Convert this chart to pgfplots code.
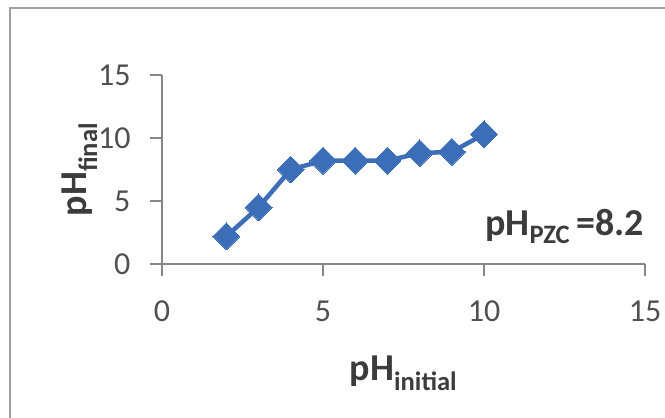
\documentclass[border=0pt]{standalone}
\usepackage{pgfplots}
\pgfplotsset{compat=1.18}
\usepackage{fontspec}
\setmainfont{Carlito}
\definecolor{serblue}{RGB}{60,110,184}
\definecolor{tickgray}{RGB}{80,80,80}
\definecolor{labgray}{RGB}{60,60,60}
\definecolor{axgray}{RGB}{134,134,134}
\definecolor{framegray}{RGB}{160,160,160}
\begin{document}
\begin{tikzpicture}
\useasboundingbox (0,0) rectangle (665pt,418pt);
\draw[framegray, line width=1.5pt] (10pt,0pt) -- (10pt,410pt) -- (665pt,410pt);
\begin{axis}[
  at={(162pt,154pt)}, anchor=south west,
  scale only axis, width=483pt, height=189pt,
  xmin=0, xmax=15, ymin=0, ymax=15,
  xtick={0,5,10,15}, ytick={0,5,10,15},
  axis lines=left,
  axis line style={axgray, line width=1.5pt, -},
  tick align=outside,
  major tick length=12pt,
  tick style={axgray, line width=1.5pt},
  every tick label/.append style={font=\fontsize{32}{33}\selectfont, text=tickgray},
  /pgf/number format/assume math mode=true,
  xticklabel style={anchor=north, yshift=-21pt},
  yticklabel style={anchor=east, xshift=-16pt},
  xlabel={\textbf{pH\textsubscript{initial}}},
  ylabel={\textbf{pH\textsubscript{final}}},
  label style={font=\fontsize{38}{40}\selectfont, text=labgray},
  xlabel style={at={(axis description cs:0.5,0)}, anchor=base, yshift=-116pt},
  ylabel style={at={([xshift=-75pt]axis description cs:0,0.5)}, anchor=base, rotate=0},
  clip=false,
]
\addplot[serblue, line width=4.5pt, mark=square*, mark size=9.5pt,
  mark options={serblue, line width=0pt, rotate=45}] coordinates {
  (2,2.2) (3,4.5) (4,7.5) (5,8.2) (6,8.2) (7,8.2) (8,8.8) (9,8.9) (10,10.3)
};
\node[anchor=base west, text=labgray, font=\fontsize{38}{40}\selectfont\bfseries, inner sep=0pt]
  at (axis cs:10.03,2.3) {pH\textsubscript{PZC}\,=8.2};
\end{axis}
\end{tikzpicture}
\end{document}
